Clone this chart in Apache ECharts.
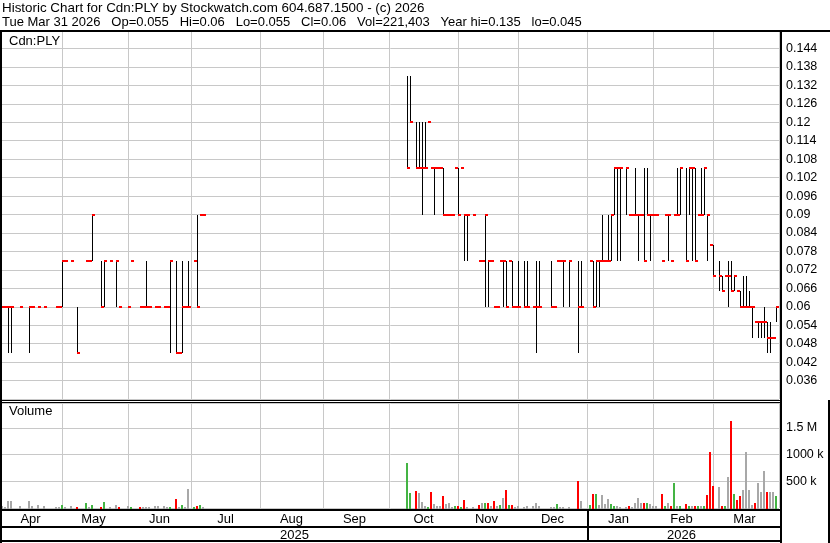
<!DOCTYPE html>
<html><head><meta charset="utf-8">
<script src="https://cdn.jsdelivr.net/npm/echarts@6/dist/echarts.min.js"></script>
<style>html,body{margin:0;padding:0;background:#fff}#c{width:830px;height:543px}</style>
</head><body><div id="c"></div>
<script>
const _ = null;
const firstDay = '2025-04-03';
const lastDay = '2026-03-31';
const monthNames = ['Jan','Feb','Mar','Apr','May','Jun','Jul','Aug','Sep','Oct','Nov','Dec'];
const priceTicks = {min: 0.03, max: 0.15, step: 0.006};
const volumeTicks = {max: 1968750, step: 500000};
const titleLine1 = 'Historic Chart for Cdn:PLY by Stockwatch.com 604.687.1500 - (c) 2026';
const titleLine2 = 'Tue Mar 31 2026   Op=0.055   Hi=0.06   Lo=0.055   Cl=0.06   Vol=221,403   Year hi=0.135   lo=0.045';

// one entry per weekday slot (Apr 3 2025 .. Mar 31 2026)
const closes = [
/*Apr*/ .06,.06,.06,.06,_,_,.06,_,_,.06,.06,_,.06,_,.06,_,_,_,.06,.06,
/*May*/ .075,.075,_,.075,_,.045,_,_,.075,.075,.09,_,_,.06,.075,_,.075,_,.075,.06,_,_,
/*Jun*/ .06,.075,_,_,.06,.06,.06,.06,_,.06,.06,_,.06,.06,.075,_,.045,.045,.06,.06,.06,
/*Jul*/ _,.075,.06,.09,.09,_,_,_,_,_,_,_,_,_,_,_,_,_,_,_,_,_,_,
/*Aug*/ _,_,_,_,_,_,_,_,_,_,_,_,_,_,_,_,_,_,_,_,_,
/*Sep*/ _,_,_,_,_,_,_,_,_,_,_,_,_,_,_,_,_,_,_,_,_,_,
/*Oct*/ _,_,_,_,_,_,.105,.12,_,.105,.105,.105,.105,.12,.105,.105,.105,.105,.09,.09,.09,.09,.105,
/*Nov*/ .09,.105,.09,.09,_,.09,_,.075,.075,.09,.075,.075,.06,.06,.075,.075,.06,.075,.06,.06,
/*Dec*/ .06,_,.06,.06,_,.06,.06,.06,_,_,_,.06,.06,.075,.075,.075,_,.075,_,_,.06,.06,_,
/*Jan*/ _,.075,.06,.075,.075,.075,.075,.075,.09,.105,.105,.105,_,.105,.09,.09,.09,.09,.09,.075,.09,.09,
/*Feb*/ .09,.09,_,.075,.09,.09,.075,.09,.09,.105,_,.075,.105,.105,.075,.09,.09,.105,.09,.08,
/*Mar*/ .07,_,.07,.065,.07,.07,.065,.07,.065,.06,.06,.06,.06,.06,.055,.055,.055,.055,.05,.05,.05,.06
];
const highs = [
/*Apr*/ _,_,.06,.06,_,_,_,_,_,.06,_,_,_,_,_,_,_,_,_,_,
/*May*/ .075,_,_,_,_,.06,_,_,_,_,.09,_,_,.075,.075,_,_,_,.075,_,_,_,
/*Jun*/ _,_,_,_,_,_,.075,_,_,_,_,_,_,_,.075,_,.075,_,.075,_,.075,
/*Jul*/ _,_,.09,_,_,_,_,_,_,_,_,_,_,_,_,_,_,_,_,_,_,_,_,
/*Aug*/ _,_,_,_,_,_,_,_,_,_,_,_,_,_,_,_,_,_,_,_,_,
/*Sep*/ _,_,_,_,_,_,_,_,_,_,_,_,_,_,_,_,_,_,_,_,_,_,
/*Oct*/ _,_,_,_,_,_,.135,.135,_,.12,.12,.12,.12,_,_,.105,_,_,.105,_,_,_,_,
/*Nov*/ .105,_,.09,.09,_,_,_,_,_,.09,.075,_,_,_,_,.075,.075,_,.075,_,
/*Dec*/ .075,_,.075,.075,_,_,.075,.075,_,_,_,.075,_,_,_,.075,_,.075,_,_,.075,.075,_,
/*Jan*/ _,_,.075,.075,.075,.09,_,.09,.09,.105,.105,.105,_,.105,_,_,.105,.09,_,.105,.105,.09,
/*Feb*/ _,_,_,_,_,.09,_,_,.105,.105,_,.105,.105,.105,.105,_,.105,.105,.09,_,
/*Mar*/ .08,_,.075,.07,_,.075,.075,.07,_,.065,.07,.07,.065,.06,_,.055,.055,.06,.055,.055,_,.06
];
const lows = [
/*Apr*/ _,_,.045,.045,_,_,_,_,_,.045,_,_,_,_,_,_,_,_,_,_,
/*May*/ .06,_,_,_,_,.045,_,_,_,_,.075,_,_,.06,.06,_,_,_,.06,_,_,_,
/*Jun*/ _,_,_,_,_,_,.06,_,_,_,_,_,_,_,.045,_,.045,_,.045,_,.06,
/*Jul*/ _,_,.06,_,_,_,_,_,_,_,_,_,_,_,_,_,_,_,_,_,_,_,_,
/*Aug*/ _,_,_,_,_,_,_,_,_,_,_,_,_,_,_,_,_,_,_,_,_,
/*Sep*/ _,_,_,_,_,_,_,_,_,_,_,_,_,_,_,_,_,_,_,_,_,_,
/*Oct*/ _,_,_,_,_,_,.105,.12,_,.105,.105,.09,.105,_,_,.09,_,_,.09,_,_,_,_,
/*Nov*/ .09,_,.075,.075,_,_,_,_,_,.06,.06,_,_,_,_,.06,.06,_,.06,_,
/*Dec*/ .06,_,.06,.06,_,_,.045,.06,_,_,_,.06,_,_,_,.06,_,.06,_,_,.045,.06,_,
/*Jan*/ _,_,.06,.06,.06,.075,_,.075,.075,.09,.075,.075,_,.09,_,_,.09,.075,_,.075,.09,.075,
/*Feb*/ _,_,_,_,_,.075,_,_,.09,.09,_,.075,.09,.075,.075,_,.09,.09,.075,_,
/*Mar*/ .07,_,.065,.065,_,.06,.065,.065,_,.06,.06,.06,.06,.05,_,.05,.05,.05,.045,.045,_,.055
];
const volumes = [
/*Apr*/ 30000,20000,130000,130000,_,_,30000,_,_,130000,40000,_,50000,_,40000,_,_,_,20000,20000,
/*May*/ 60000,20000,_,30000,_,20000,_,_,90000,20000,60000,_,_,20000,110000,_,20000,_,50000,20000,_,_,
/*Jun*/ 30000,20000,_,_,25000,20000,20000,20000,_,30000,30000,_,30000,20000,25000,_,170000,20000,60000,15000,350000,
/*Jul*/ _,25000,40000,60000,20000,_,_,_,_,_,_,_,_,_,_,_,_,_,_,_,_,_,_,
/*Aug*/ _,_,_,_,_,_,_,_,_,_,_,_,_,_,_,_,_,_,_,_,_,
/*Sep*/ _,_,_,_,_,_,_,_,_,_,_,_,_,_,_,_,_,_,_,_,_,_,
/*Oct*/ _,_,_,_,_,_,850000,290000,_,320000,290000,120000,40000,20000,300000,80000,40000,30000,230000,80000,85000,20000,30000,
/*Nov*/ 40000,20000,150000,20000,_,20000,_,55000,85000,90000,100000,30000,130000,30000,60000,190000,340000,55000,55000,20000,
/*Dec*/ 30000,_,20000,30000,_,30000,85000,30000,_,_,_,20000,20000,75000,20000,20000,_,20000,_,_,500000,130000,_,
/*Jan*/ _,55000,260000,260000,55000,240000,75000,170000,75000,40000,30000,20000,_,20000,35000,20000,90000,190000,100000,100000,100000,75000,
/*Feb*/ 30000,30000,_,260000,30000,85000,30000,460000,30000,30000,_,75000,40000,30000,40000,30000,30000,30000,245000,1050000,
/*Mar*/ 420000,_,400000,35000,35000,575000,1630000,260000,150000,220000,340000,1050000,340000,55000,100000,460000,300000,690000,300000,300000,300000,221403
];

const FONT = '"Liberation Sans", Arial, sans-serif';
function weekdays(a, b) {
  const out = [], d = new Date(a + 'T00:00:00Z'), e = new Date(b + 'T00:00:00Z');
  while (d <= e) { const w = d.getUTCDay(); if (w !== 0 && w !== 6) out.push(d.toISOString().slice(0, 10)); d.setUTCDate(d.getUTCDate() + 1); }
  return out;
}
const days = weekdays(firstDay, lastDay);
const isMonthStart = (i) => i > 0 && days[i].slice(0, 7) !== days[i - 1].slice(0, 7);
function midIndexSet(keyLen) {
  const r = {}; days.forEach((d, i) => { const k = d.slice(0, keyLen); if (!r[k]) r[k] = [i, i]; r[k][1] = i; });
  const s = new Set(); Object.values(r).forEach(([a, b]) => s.add(Math.floor((a + b) / 2))); return s;
}
const monthMid = midIndexSet(7), yearMid = midIndexSet(4);

const priceData = [], volData = [];
let prev = null;
closes.forEach((c, i) => {
  if (c == null) return;
  priceData.push([i, c, highs[i] != null ? highs[i] : c, lows[i] != null ? lows[i] : c]);
  if (volumes[i] != null) volData.push([i, volumes[i], prev == null ? 0 : (c > prev ? 1 : c < prev ? -1 : 0)]);
  prev = c;
});

const GRID_C = '#c8c8c8';
const chart = echarts.init(document.getElementById('c'), null, {renderer: 'canvas'});
const txt = (x, y, t, size) => ({type: 'text', z: 60, style: {x, y, text: t, fill: '#000', font: (size || 13) + 'px ' + FONT, verticalAlign: 'top'}});
const box = (x, y, w, h) => ({type: 'rect', z: 50, shape: {x, y, width: w, height: h}, style: {fill: '#000'}});

chart.setOption({
  animation: false,
  backgroundColor: '#fff',
  grid: [
    {left: 2, top: 30, width: 777, height: 369},
    {left: 2, top: 403, width: 777, height: 105}
  ],
  xAxis: [
    {type: 'category', gridIndex: 0, data: days, axisLine: {show: false}, axisTick: {show: false}, axisLabel: {show: false},
     splitLine: {show: true, interval: isMonthStart, lineStyle: {color: GRID_C, width: 1}}},
    {type: 'category', gridIndex: 1, data: days, axisLine: {show: false}, axisTick: {show: false},
     axisLabel: {show: true, interval: (i) => monthMid.has(i), formatter: (v) => monthNames[+v.slice(5, 7) - 1], margin: 5, color: '#000', fontSize: 13, fontFamily: FONT},
     splitLine: {show: true, interval: isMonthStart, lineStyle: {color: GRID_C, width: 1}}},
    {type: 'category', gridIndex: 1, data: days, position: 'bottom', offset: 18, axisLine: {show: false}, axisTick: {show: false}, splitLine: {show: false},
     axisLabel: {show: true, interval: (i) => yearMid.has(i), formatter: (v) => v.slice(0, 4), margin: 3, color: '#000', fontSize: 13, fontFamily: FONT}}
  ],
  yAxis: [
    {type: 'value', gridIndex: 0, position: 'right', min: priceTicks.min, max: priceTicks.max, interval: priceTicks.step,
     axisLine: {show: false}, axisTick: {show: false}, splitLine: {lineStyle: {color: GRID_C}},
     axisLabel: {margin: 7, color: '#000', fontSize: 12.5, fontFamily: FONT, showMinLabel: false, showMaxLabel: false, formatter: (v) => String(+v.toFixed(3))}},
    {type: 'value', gridIndex: 1, position: 'right', min: 0, max: volumeTicks.max, interval: volumeTicks.step,
     axisLine: {show: false}, axisTick: {show: false}, splitLine: {lineStyle: {color: GRID_C}},
     axisLabel: {margin: 7, color: '#000', fontSize: 12.5, fontFamily: FONT, showMinLabel: false, showMaxLabel: false,
       formatter: (v) => v >= 1500000 ? (v / 1e6) + ' M' : (v / 1000) + ' k'}}
  ],
  series: [
    {type: 'custom', xAxisIndex: 0, yAxisIndex: 0, data: priceData, encode: {x: 0, y: 1}, z: 5,
     renderItem: (params, api) => {
       const i = api.value(0), c = api.value(1), h = api.value(2), l = api.value(3);
       const pc = api.coord([i, c]);
       const bw = api.size([1, 0])[0];
       const left = Math.round(pc[0] - bw / 2);
       const ch = [];
       if (h !== l) {
         const ph = api.coord([i, h]), pl = api.coord([i, l]);
         ch.push({type: 'line', shape: {x1: left + 0.5, y1: Math.round(ph[1]), x2: left + 0.5, y2: Math.round(pl[1])}, style: {stroke: '#000', lineWidth: 1}});
       }
       ch.push({type: 'rect', shape: {x: left, y: Math.round(pc[1]) - 1, width: 3, height: 2}, style: {fill: '#ff0000'}});
       return {type: 'group', children: ch};
     }},
    {type: 'custom', xAxisIndex: 1, yAxisIndex: 1, data: volData, encode: {x: 0, y: 1}, z: 5,
     renderItem: (params, api) => {
       const i = api.value(0), v = api.value(1), d = api.value(2);
       const top = api.coord([i, v]), base = api.coord([i, 0]);
       const bw = api.size([1, 0])[0];
       const left = Math.round(top[0] - bw / 2);
       const y = Math.round(top[1]);
       return {type: 'rect', shape: {x: left - 1, y, width: 2, height: Math.round(base[1]) - y + 2},
         style: {fill: d > 0 ? '#44b444' : d < 0 ? '#ff0000' : '#a8a8a8'}};
     }}
  ],
  graphic: [
    txt(2, 1.5, titleLine1, 13.4),
    txt(2, 16, titleLine2, 13),
    txt(9, 34.5, 'Cdn:PLY'),
    txt(9, 405, 'Volume'),
    box(0, 30, 830, 2),
    box(0, 30, 2, 513),
    box(780, 30, 2, 513),
    box(828, 400, 2, 143),
    box(0, 400, 782, 1),
    box(0, 402, 782, 1),
    box(0, 509, 782, 2),
    box(0, 526, 782, 2),
    box(0, 540, 782, 2),
    box(587, 510, 2, 31)
  ]
});
</script></body></html>
